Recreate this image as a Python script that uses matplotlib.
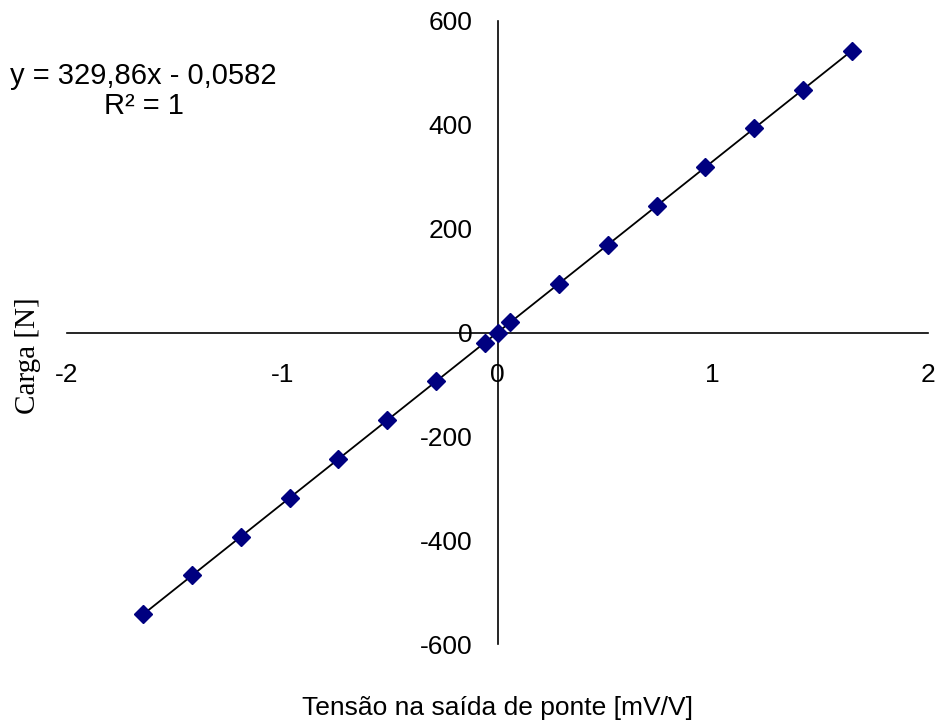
import numpy as np
import matplotlib
matplotlib.use('Agg')
import matplotlib.pyplot as plt

### Calibration data: bridge output [mV/V] vs load [N]
tensao = [-1.645, -1.419, -1.192, -0.965, -0.739, -0.512, -0.286, -0.0596, 0.0,
          0.0596, 0.286, 0.512, 0.739, 0.965, 1.192, 1.419, 1.645]
carga = [-542.5, -467.8, -393.1, -318.4, -243.7, -169.0, -94.3, -19.6, 0.0,
         19.6, 94.3, 169.0, 243.7, 318.4, 393.1, 467.8, 542.5]

x_ticks = [-2, -1, 0, 1, 2]
y_ticks = [-600, -400, -200, 0, 200, 400, 600]
equation = 'y = 329,86x - 0,0582\nR² = 1'

plt.rcParams['font.family'] = ['Liberation Sans', 'DejaVu Sans']

fig = plt.figure(figsize=(9.38, 7.23), dpi=100)
ax = fig.add_axes([67/938, 1 - 644/723, (928 - 67)/938, (644 - 21)/723])

### Linear trendline over the data range
coef = np.polyfit(tensao, carga, 1)
xl = np.array([min(tensao), max(tensao)])
ax.plot(xl, np.polyval(coef, xl), color='black', lw=1.3, zorder=2)

ax.plot(tensao, carga, linestyle='none', marker='D', markersize=9.5,
        color='#000080', markeredgecolor='#000080', zorder=3)

ax.set_xlim(-2, 2)
ax.set_ylim(-600, 600)
ax.set_xticks(x_ticks)
ax.set_yticks(y_ticks)
ax.set_xticklabels([str(v) for v in x_ticks])
ax.set_yticklabels([str(v) for v in y_ticks])

### Axes crossing at the origin
ax.spines['left'].set_position(('data', 0))
ax.spines['bottom'].set_position(('data', 0))
ax.spines['top'].set_visible(False)
ax.spines['right'].set_visible(False)
ax.spines['left'].set_linewidth(1.2)
ax.spines['bottom'].set_linewidth(1.2)
ax.tick_params(axis='both', length=0, labelsize=19)
ax.tick_params(axis='x', pad=22)
ax.tick_params(axis='y', pad=18)

fig.text(497/938, 1 - 708/723, 'Tensão na saída de ponte [mV/V]',
         ha='center', va='center', fontsize=19)
fig.text(28/938, 1 - 356/723, 'Carga [N]', rotation=90, ha='center', va='center',
         fontsize=21, family=['Liberation Serif', 'DejaVu Serif'])

fig.text(143.5/938, 1 - 91/723, equation, ha='center', va='center',
         multialignment='center', fontsize=21, linespacing=1.1)

fig.savefig('out.png', dpi=100)
